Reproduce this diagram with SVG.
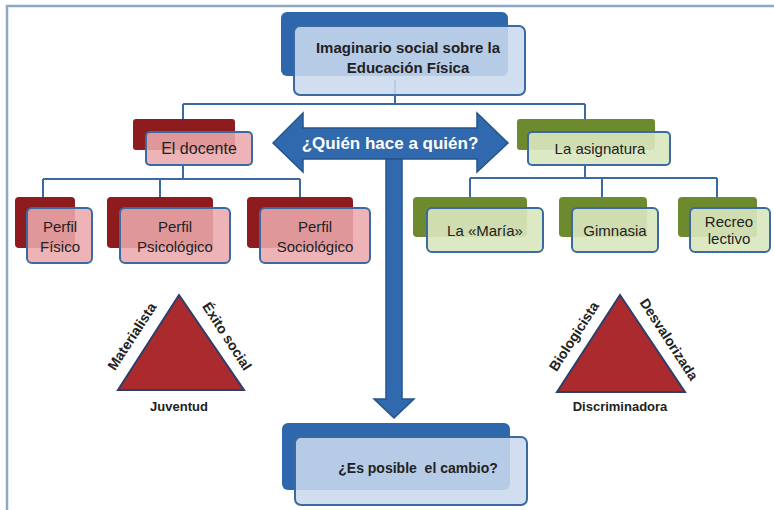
<svg xmlns="http://www.w3.org/2000/svg" width="774" height="510" viewBox="0 0 774 510">
<style>
.frame{stroke:#8fa7c7;stroke-width:2.5;fill:none}
.conn{stroke:#3b6aa0;stroke-width:2;fill:none}
.bb{fill:#2f67ad}
.fb{fill:#c9d9ee;fill-opacity:0.88;stroke:#3b6aa0;stroke-width:2}
.br{fill:#8e1c1f}
.fr{fill:#eaa9ac;fill-opacity:0.88;stroke:#3b6aa0;stroke-width:2}
.bg{fill:#6d8b2e}
.fg{fill:#d9e5bf;fill-opacity:0.9;stroke:#3b6aa0;stroke-width:2}
.t{font-family:"Liberation Sans",Arial,sans-serif;fill:#222222;text-anchor:middle}
.n{font-size:15px}
.b{font-weight:bold}
.tri{fill:#aa2a2d;stroke:#2c3f6b;stroke-width:2}
.arrow{fill:#3069ad;stroke:#25558c;stroke-width:1.5}
</style>
<rect width="774" height="510" fill="#ffffff"/>
<path class="frame" d="M7 510 V6 H774"/>
<g id="connectors">
<path class="conn" d="M395 80 V104 M183 104 H585 M183 104 V120 M585 104 V120"/>
<path class="conn" d="M183 165 V179 M43 179 H300 M43 179 V197 M160 179 V197 M300 179 V197"/>
<path class="conn" d="M585 165 V178 M470 178 H717 M470 178 V197 M602 178 V197 M717 178 V197"/>
</g>
<g id="arrow-center">
<path class="arrow" d="M273 143 L303 113 L303 128 L477 128 L477 113 L508 143 L477 172 L477 159 L303 159 L303 172 Z"/>
<path class="arrow" d="M386 159 L402 159 L402 399 L414 399 L394 418 L374 399 L386 399 Z"/>
<text class="t b" x="390" y="149" font-size="17" style="fill:#ffffff">¿Quién hace a quién?</text>
</g>
<g id="top">
<rect class="bb" x="281" y="12" width="227" height="64" rx="6"/>
<rect class="fb" x="294" y="26" width="231" height="69" rx="6"/>
<text class="t b" x="408" y="53" font-size="15">Imaginario social sobre la</text>
<text class="t b" x="408" y="73" font-size="15">Educación Física</text>
</g>
<g id="docente">
<rect class="br" x="133" y="119" width="102" height="31" rx="3"/>
<rect class="fr" x="146" y="132" width="106" height="33" rx="4"/>
<text class="t" x="199" y="154" font-size="16">El docente</text>
</g>
<g id="asignatura">
<rect class="bg" x="517" y="119" width="138" height="31" rx="3"/>
<rect class="fg" x="528" y="132" width="142" height="33" rx="4"/>
<text class="t n" x="600" y="154">La asignatura</text>
</g>
<g id="perfil-fisico">
<rect class="br" x="15" y="197" width="60" height="51" rx="4"/>
<rect class="fr" x="27" y="208" width="65" height="55" rx="5"/>
<text class="t n" x="60" y="232">Perfil</text>
<text class="t n" x="60" y="252">Físico</text>
</g>
<g id="perfil-psicologico">
<rect class="br" x="107" y="197" width="106" height="51" rx="4"/>
<rect class="fr" x="120" y="208" width="110" height="55" rx="5"/>
<text class="t n" x="175" y="232">Perfil</text>
<text class="t n" x="175" y="252">Psicológico</text>
</g>
<g id="perfil-sociologico">
<rect class="br" x="247" y="197" width="106" height="51" rx="4"/>
<rect class="fr" x="260" y="208" width="110" height="55" rx="5"/>
<text class="t n" x="315" y="232">Perfil</text>
<text class="t n" x="315" y="252">Sociológico</text>
</g>
<g id="maria">
<rect class="bg" x="413" y="197" width="114" height="40" rx="4"/>
<rect class="fg" x="427" y="208" width="116" height="44" rx="5"/>
<text class="t n" x="485" y="236">La «María»</text>
</g>
<g id="gimnasia">
<rect class="bg" x="559" y="197" width="88" height="40" rx="4"/>
<rect class="fg" x="572" y="208" width="86" height="44" rx="5"/>
<text class="t n" x="615" y="236">Gimnasia</text>
</g>
<g id="recreo">
<rect class="bg" x="678" y="197" width="79" height="40" rx="4"/>
<rect class="fg" x="690" y="208" width="80" height="44" rx="5"/>
<text class="t n" x="729" y="227">Recreo</text>
<text class="t n" x="729" y="244">lectivo</text>
</g>
<g id="triangle-left">
<polygon class="tri" points="179,295 244,390 118,390"/>
<text class="t b" font-size="14" transform="translate(136,339) rotate(-57)">Materialista</text>
<text class="t b" font-size="14" transform="translate(223,339) rotate(57)">Éxito social</text>
<text class="t b" font-size="13" x="179" y="411">Juventud</text>
</g>
<g id="triangle-right">
<polygon class="tri" points="620,295 685,392 557,392"/>
<text class="t b" font-size="14" transform="translate(578,339) rotate(-57)">Biologicista</text>
<text class="t b" font-size="14" transform="translate(665,342) rotate(57)">Desvalorizada</text>
<text class="t b" font-size="13" x="620" y="411">Discriminadora</text>
</g>
<g id="cambio">
<rect class="bb" x="282" y="423" width="228" height="67" rx="6"/>
<rect class="fb" x="295" y="437" width="232" height="68" rx="6"/>
<text class="t b" x="418" y="473" font-size="14" style="white-space:pre">¿Es posible  el cambio?</text>
</g>
</svg>
